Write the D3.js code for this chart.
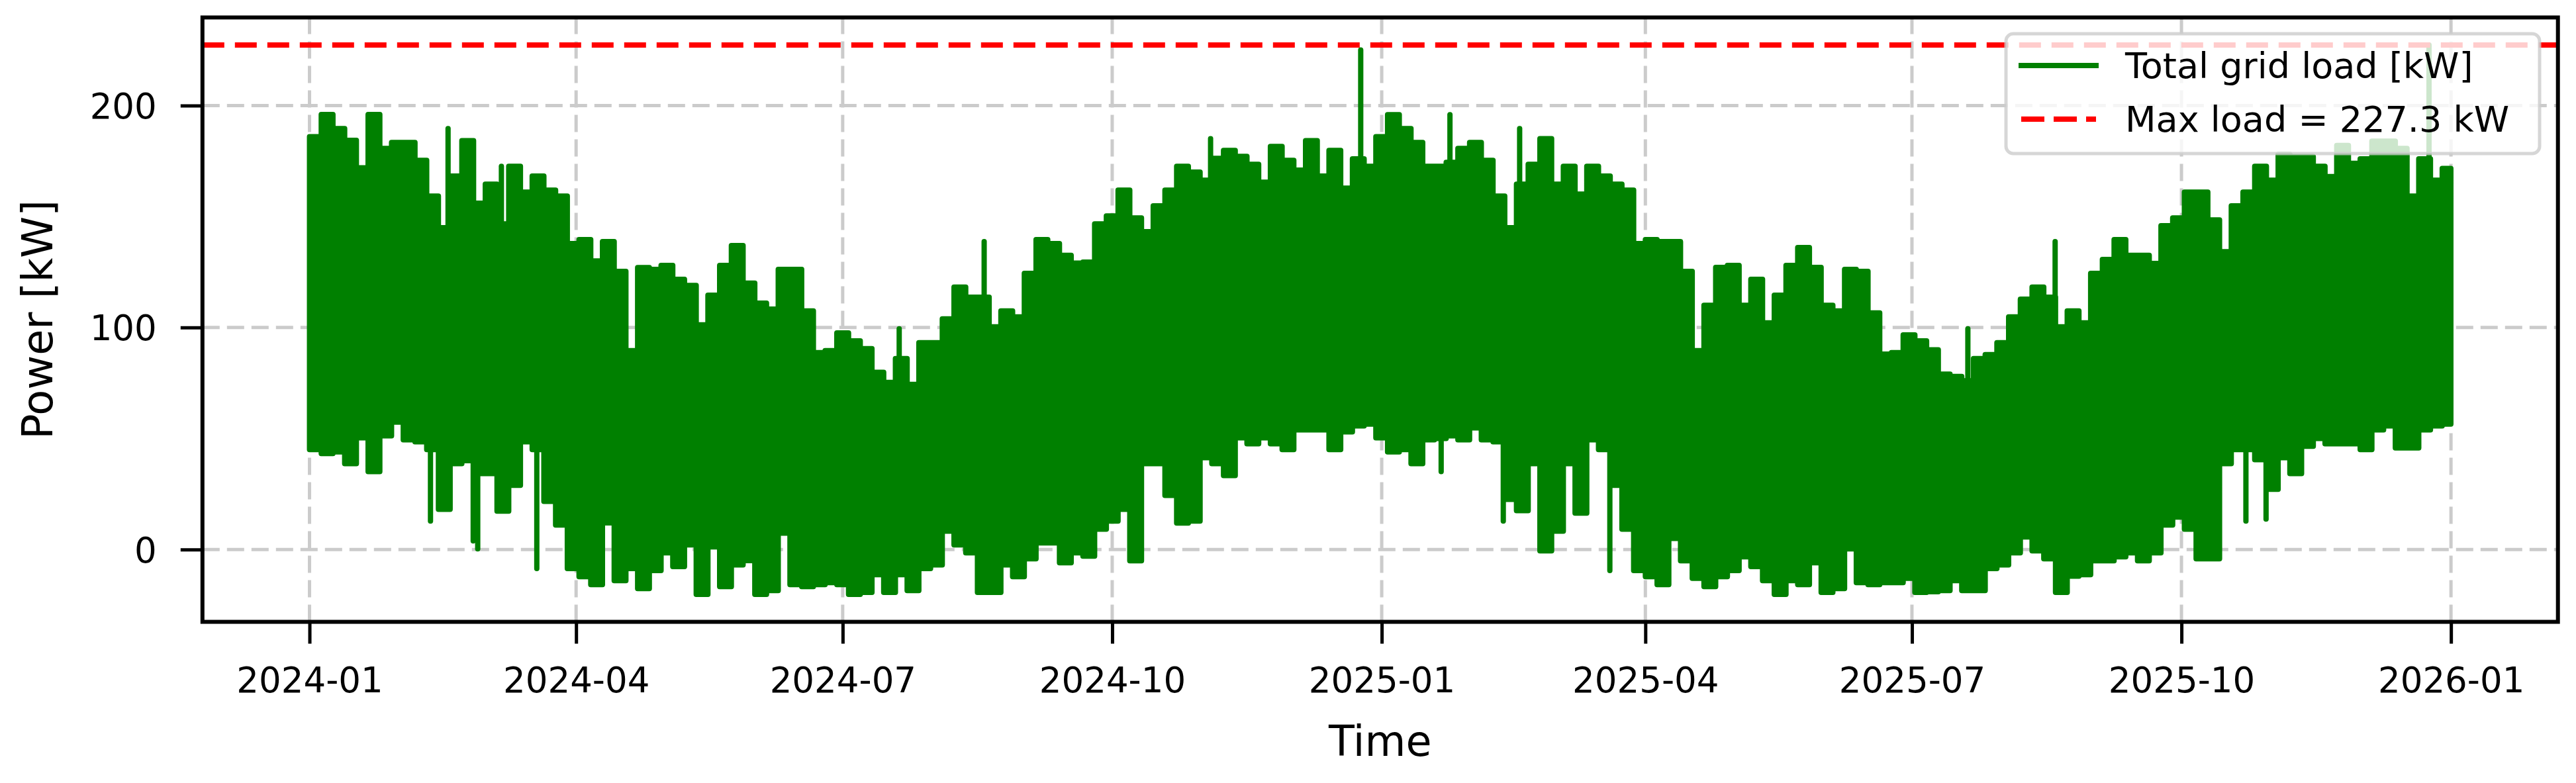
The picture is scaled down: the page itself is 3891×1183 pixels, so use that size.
<!DOCTYPE html>
<html><head><meta charset="utf-8">
<script src="https://cdn.jsdelivr.net/npm/d3@7"></script>
<style>
html,body{margin:0;padding:0;background:#fff;}
svg{display:block;font-family:"DejaVu Sans",sans-serif;}
</style></head><body>
<svg id="chart" width="3891" height="1183"></svg>
<script>
// ---- data ----
const seriesStart = "2024-01-01T00:00:00";
const seriesEnd   = "2025-12-31T23:00:00";
const binDays = 4; // each value below = typical max / min of the load within a 4-day window
const binMax = [
186,196,189.6,184.3,172,196,180.7,183.4,183.4,175.3,
159.2,145,168.2,184.2,156,164.6,146.7,172.6,161,168.2,
161.9,159.2,137.8,139.6,130,138.7,125.3,89.6,127,126.2,
128,121.7,119,101.2,114.6,128,136.9,120,111,108.3,
126.2,126.2,107.5,88.7,89.6,97.6,94,90.5,79.8,75.3,
86,74.4,93.2,93.2,103.9,118.2,113.7,113.7,100.3,107.5,
104.8,124.4,139.6,137.8,132.5,129,129.5,146.7,150.3,161.9,
149.4,143.2,154.8,161.9,172.6,170,166.4,176.2,179.8,177.1,
173.5,165.5,181.6,175.3,170.9,184.2,168.2,179.8,162.8,176,
172.6,186,195.9,189.6,183.4,172.6,172.6,174.4,180.7,183.4,
175.3,159.2,145,164.6,173.5,185.1,164.6,172.6,160.1,172.6,
168.2,164.6,161.9,137.8,139.6,138.7,138.7,125.3,89.6,110,
127.1,128,110,121.7,102.1,114.6,128,136,127.1,110,
107.5,126.2,125.3,106.6,88,88.7,96.7,94,90,79,
78,76,86,87.8,93.2,104.8,112.8,118.2,113.7,100.3,
107.5,102.1,124.4,130.7,139.6,132.5,132.5,128.9,145.9,149.4,
161,161,148.5,134.2,154.8,161,172.6,166.4,178,177,
177,172.6,168,182,174,176,184,184,180.7,159.2,
176,166.4,171.7];
const binMin = [
45,43.2,44,38.7,50.3,35.1,51.2,57.4,49.4,48.5,
45,18.1,38.7,40,34.2,34.2,17.3,28.9,48.5,45,
21.7,11,-8.6,-12.2,-15.8,12,-14,-8.6,-17.6,-9.5,
-1.5,-7.7,2.1,-20.2,1.2,-16.7,-6.9,-5,-20.2,-18.5,
7.4,-15.8,-16.7,-15.8,-14.9,-15.8,-20.2,-19.3,-11.3,-19.3,
-11.3,-18.5,-8.6,-6.9,8.3,2.1,-1.5,-19.3,-19.3,-6.9,
-12.2,-4.2,3,3,-6,-1.5,-3,9.2,12.8,18.1,
-5.1,38.7,38.7,24.4,11.9,12.8,41.4,38.7,33.3,50.3,
47.6,50.3,47.6,45,53.9,53.9,53.9,45,53,55.7,
56.5,50.3,44,45,38.7,49.4,50,51.2,49.4,54.8,
49.4,48.5,22.6,17.5,38.7,-0.6,8.3,38.7,16.4,49.4,
45,28.9,9.2,-9.5,-12.2,-15.8,5,-5.1,-13,-16.7,
-12.2,-9.5,-3.3,-7.7,-14,-20.2,-14,-15.8,-6,-19.3,
-17.6,0.3,-14.9,-15.8,-14.9,-14.9,-13,-19.3,-19,-18.5,
-14,-18.5,-18.5,-8.6,-6.9,-1.5,5.7,-0.6,-4.2,-19.3,
-12,-11.3,-5.1,-5.1,-3.3,-1.5,-5.1,-1.5,11,14.6,
9.2,-4.2,-4.2,38.7,45,45,40.5,27.1,41.4,34.2,
46.5,50,47.6,47.6,47.6,45,53.9,55.7,45.8,45.8,
53.9,55.7,56.5];
// isolated single-hour peaks and dips that stand out of the band
const spikeTimes = [
"2024-02-11T07:00:00","2024-02-17T07:00:00","2024-02-25T21:00:00","2024-02-27T10:00:00",
"2024-03-06T12:00:00","2024-03-18T14:00:00","2024-07-20T07:00:00","2024-08-18T07:00:00",
"2024-11-03T14:00:00","2024-12-24T20:00:00","2025-01-21T07:00:00","2025-01-24T07:00:00",
"2025-02-11T12:00:00","2025-02-17T02:00:00","2025-03-19T21:00:00","2025-07-20T02:00:00",
"2025-08-18T21:00:00","2025-10-23T00:00:00","2025-10-29T21:00:00","2025-12-24T12:00:00"];
const spikeValues = [
12.8,189.6,3.9,0.3,
172.6,-8.6,99.4,138.7,
185.1,225.0,35.1,195.9,
12.8,189.6,-9.5,99.4,
138.7,12.8,13.7,227.3];
const maxLoad = 227.3;
const xTickLabels = ["2024-01","2024-04","2024-07","2024-10","2025-01","2025-04","2025-07","2025-10","2026-01"];
const yTickValues = [0, 100, 200];
const seriesLabel = "Total grid load [kW]";
const maxLabel = "Max load = " + maxLoad.toFixed(1) + " kW";

// ---- layout ----
const L = 305.8, R = 3863.7, T = 26.4, B = 939.5;
const GREEN = "#008000", RED = "#ff0000", GRID = "#cbcbcb";

const parse = d3.timeParse("%Y-%m-%dT%H:%M:%S");
const parseMonth = d3.timeParse("%Y-%m");
const t0 = parse(seriesStart), t1 = parse(seriesEnd);

const bins = binMax.map((v, i) => ({t: d3.timeDay.offset(t0, i * binDays), hi: v, lo: binMin[i]}));
bins.push({t: t1, hi: binMax[binMax.length - 1], lo: binMin[binMin.length - 1]});
const spikes = spikeTimes.map((s, i) => {
  const t = parse(s);
  const k = Math.floor((t - t0) / (binDays * 864e5));
  return {t, v: spikeValues[i], base: (binMax[k] + binMin[k]) / 2};
});

const span = t1 - t0;
const x = d3.scaleTime().domain([new Date(+t0 - 0.05 * span), new Date(+t1 + 0.05 * span)]).range([L, R]);
const allVals = binMax.concat(binMin, spikeValues, [maxLoad]);
const vmin = d3.min(allVals), vmax = d3.max(allVals), vpad = 0.05 * (vmax - vmin);
const y = d3.scaleLinear().domain([vmin - vpad, vmax + vpad]).range([B, T]);

const svg = d3.select("#chart");
svg.append("rect").attr("width", 3891).attr("height", 1183).attr("fill", "#fff");

svg.append("clipPath").attr("id", "plot").append("rect")
  .attr("x", L).attr("y", T).attr("width", R - L).attr("height", B - T);

const xTicks = xTickLabels.map(parseMonth);

// grid
const grid = svg.append("g").attr("clip-path", "url(#plot)")
  .attr("stroke", GRID).attr("stroke-width", 5).attr("stroke-dasharray", "26,11");
grid.selectAll("line.h").data(yTickValues).join("line").attr("class", "h")
  .attr("x1", L).attr("x2", R).attr("y1", d => y(d)).attr("y2", d => y(d));
grid.selectAll("line.v").data(xTicks).join("line").attr("class", "v")
  .attr("x1", d => x(d)).attr("x2", d => x(d)).attr("y1", B).attr("y2", T);

// data
const dataG = svg.append("g").attr("clip-path", "url(#plot)");
const area = d3.area().curve(d3.curveStepAfter)
  .x(d => x(d.t)).y0(d => y(d.lo)).y1(d => y(d.hi));
dataG.append("path").datum(bins).attr("d", area)
  .attr("fill", GREEN).attr("stroke", GREEN).attr("stroke-width", 8)
  .attr("stroke-linejoin", "round");
dataG.selectAll("line.spike").data(spikes).join("line").attr("class", "spike")
  .attr("x1", d => x(d.t)).attr("x2", d => x(d.t))
  .attr("y1", d => y(d.base)).attr("y2", d => y(d.v))
  .attr("stroke", GREEN).attr("stroke-width", 8).attr("stroke-linecap", "round");

// max line
dataG.append("line").attr("x1", L).attr("x2", R).attr("y1", y(maxLoad)).attr("y2", y(maxLoad))
  .attr("stroke", RED).attr("stroke-width", 8).attr("stroke-dasharray", "33,16");

// axes
const xAxis = d3.axisBottom(x).tickValues(xTicks).tickFormat(d3.timeFormat("%Y-%m"))
  .tickSize(33).tickPadding(36);
const gx = svg.append("g").attr("transform", `translate(0,${B})`).call(xAxis);
const yAxis = d3.axisLeft(y).tickValues(yTickValues).tickFormat(d3.format("d"))
  .tickSize(33).tickPadding(36);
const gy = svg.append("g").attr("transform", `translate(${L},0)`).call(yAxis);
[gx, gy].forEach(g => {
  g.select(".domain").remove();
  g.selectAll(".tick line").attr("stroke", "#000").attr("stroke-width", 5);
  g.selectAll(".tick text").attr("fill", "#000").attr("font-size", 53)
    .attr("font-family", "DejaVu Sans");
});
gy.selectAll(".tick text").attr("dy", "0.36em");

// spines
svg.append("rect").attr("x", L).attr("y", T).attr("width", R - L).attr("height", B - T)
  .attr("fill", "none").attr("stroke", "#000").attr("stroke-width", 6);

// axis labels
svg.append("text").attr("x", (L + R) / 2).attr("y", 1142).attr("text-anchor", "middle")
  .attr("font-size", 63.6).text("Time");
svg.append("text").attr("transform", `translate(79,${(T + B) / 2}) rotate(-90)`)
  .attr("text-anchor", "middle").attr("font-size", 63.6).text("Power [kW]");

// legend
const lg = svg.append("g");
lg.append("rect").attr("x", 3030).attr("y", 51).attr("width", 806).attr("height", 181)
  .attr("rx", 11).attr("fill", "#fff").attr("fill-opacity", 0.8)
  .attr("stroke", "#cccccc").attr("stroke-opacity", 0.8).attr("stroke-width", 5);
lg.append("line").attr("x1", 3053).attr("x2", 3166).attr("y1", 99).attr("y2", 99)
  .attr("stroke", GREEN).attr("stroke-width", 8).attr("stroke-linecap", "square");
lg.append("line").attr("x1", 3053).attr("x2", 3166).attr("y1", 180).attr("y2", 180)
  .attr("stroke", RED).attr("stroke-width", 8).attr("stroke-dasharray", "35,14");
lg.append("text").attr("x", 3210).attr("y", 118).attr("font-size", 54).text(seriesLabel);
lg.append("text").attr("x", 3210).attr("y", 199).attr("font-size", 54).text(maxLabel);
</script>
</body></html>
